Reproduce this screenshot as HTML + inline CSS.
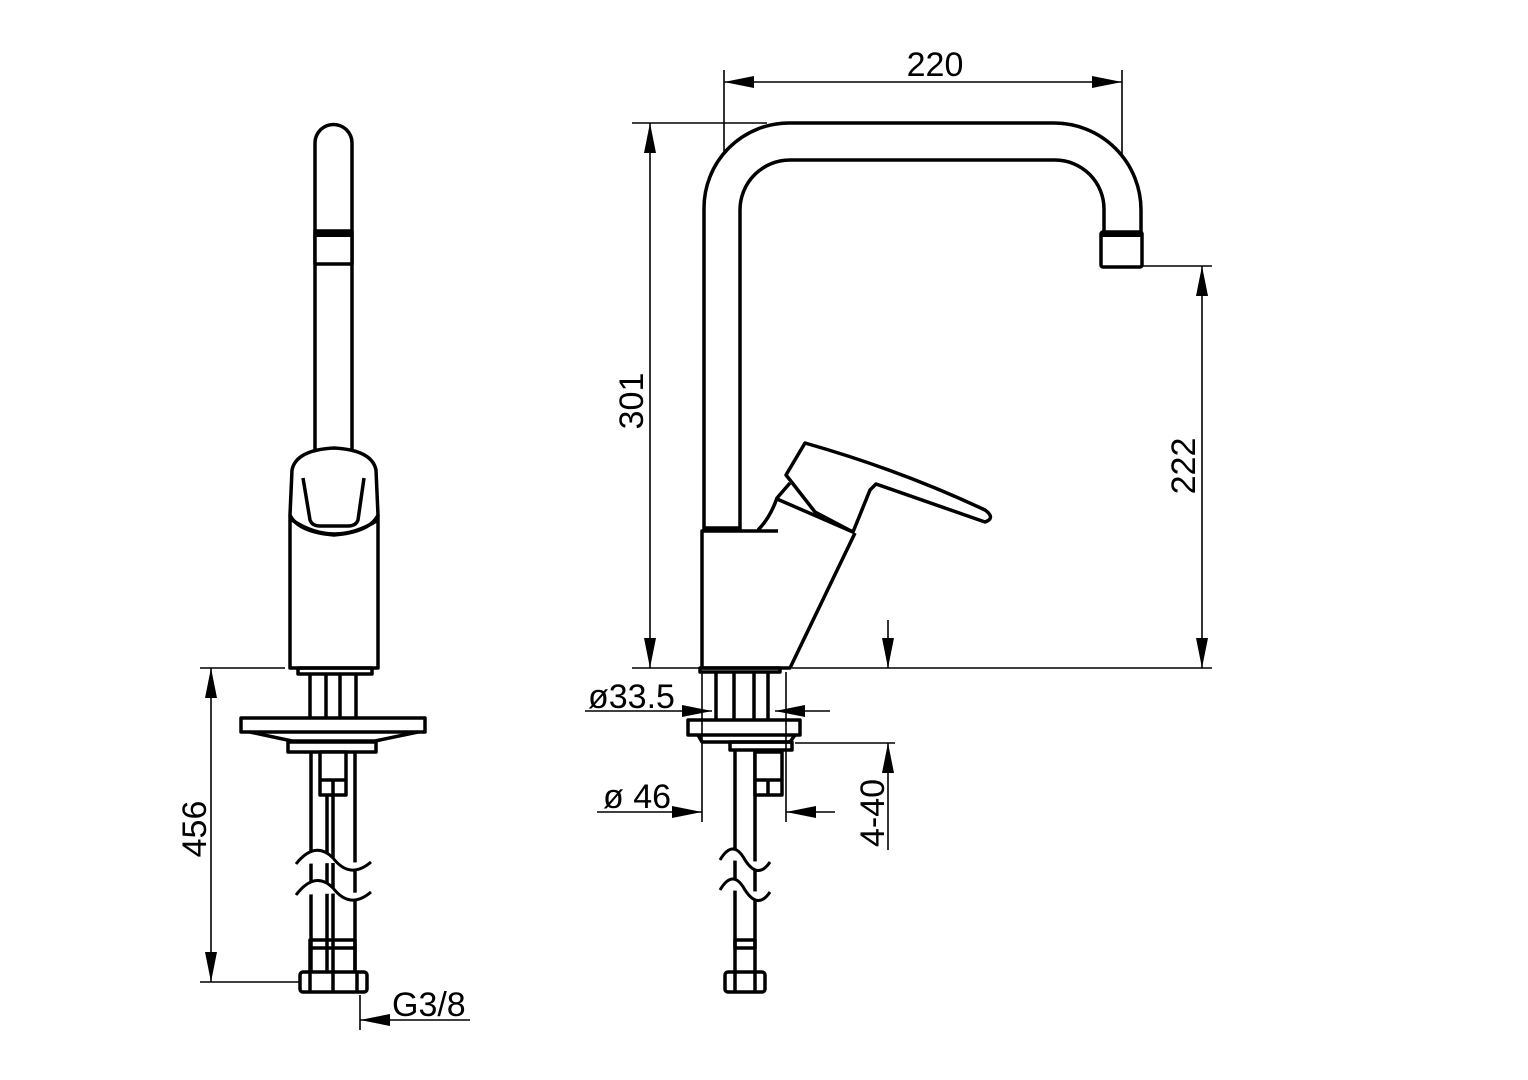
<!DOCTYPE html>
<html><head><meta charset="utf-8"><style>
html,body{margin:0;padding:0;background:#fff;}
svg{display:block;}
text{font-family:"Liberation Sans",sans-serif;font-size:34px;fill:#000;}
</style></head><body>
<svg width="1528" height="1080" viewBox="0 0 1528 1080" xmlns="http://www.w3.org/2000/svg">
<defs>
<marker id="a" viewBox="0 0 30 12" refX="30" refY="6" markerWidth="30" markerHeight="12" markerUnits="userSpaceOnUse" preserveAspectRatio="none" orient="auto-start-reverse"><path d="M0,0 L30,6 L0,12z" fill="#000"/></marker>
</defs>
<g fill="none" stroke="#000" stroke-width="3.5" stroke-linejoin="round">
<!-- LEFT VIEW -->
<path d="M315,450 V143 A18.5,18.5 0 0 1 352,143 V450"/>
<rect x="315" y="231" width="37" height="33" fill="#fff"/>
<line x1="315" y1="234" x2="352" y2="234" stroke-width="6"/>
<path d="M292,470 Q296,450 334,448 Q372,450 376,470 L378,515 Q370,532 334,535 Q298,532 290,515 Z" fill="#fff"/>
<path d="M303,478 L310,520 Q312,526 320,526 H348 Q356,526 358,520 L364,478"/>
<path d="M292,520 Q334,548 378,520"/>
<path d="M290,515 V668 H378 V515"/>
<rect x="298" y="668" width="74" height="6"/>
<path d="M310,674 V718 M326,674 V718 M340,674 V718 M356,674 V718"/>
<rect x="241" y="718" width="184" height="14" fill="#fff"/>
<path d="M250,732 L292,741 H375 L418,732"/>
<rect x="288" y="742" width="88" height="10"/>
<path d="M311,752 V972 M355,752 V972 M327,795 V972 M333,795 V972"/>
<rect x="320" y="752" width="26" height="43" fill="#fff"/>
<path d="M320,780 H346 M333,780 V795"/>
<rect x="310" y="940" width="45" height="8"/>
<path d="M310,948 V972 M355,948 V972"/>
<rect x="300" y="972" width="67" height="20" rx="3"/>
<path d="M310,972 V992 M333,972 V992 M357,972 V992"/>
<path d="M296,864 Q315,840 333,858 Q350,880 371,862" fill="#fff" stroke-width="3"/>
<path d="M296,895 Q315,870 333,888 Q350,910 371,892" fill="#fff" stroke-width="3"/>
<!-- RIGHT VIEW spout -->
<path d="M704,530 V208 A85,85 0 0 1 789,123 H1054 A87,87 0 0 1 1141,210 V232"/>
<path d="M740,530 V210 A50,50 0 0 1 790,160 H1055 A49,49 0 0 1 1104,209 V232"/>
<rect x="1101" y="232" width="41" height="35" rx="2"/>
<line x1="1101" y1="234" x2="1142" y2="234" stroke-width="6"/>
<!-- body -->
<path d="M778,531 H702 V668 H790 L855,533"/>
<path d="M704,528 H740"/>
<path d="M758,530 Q770,518 777,498 L790,483"/>
<path d="M777,499 L853,532"/>
<path d="M786,475 L805,443 Q900,470 985,510 Q996,518 985,522 L876,484 L870,490 L853,532 L815,512 L790,480 Z" fill="#fff"/>
<rect x="700" y="668" width="80" height="4"/>
<path d="M716,672 V720 M734,672 V720 M754,672 V720 M768,672 V720"/>
<rect x="688" y="720" width="112" height="15" fill="#fff"/>
<path d="M698,735 L702,742 H790 L795,735"/>
<rect x="730" y="742" width="62" height="8"/>
<path d="M735,750 V972 M755,750 V972"/>
<rect x="755" y="752" width="27" height="43" fill="#fff"/>
<path d="M755,780 H782 M768,780 V795"/>
<rect x="735" y="940" width="20" height="8"/>
<rect x="725" y="972" width="40" height="20" rx="3"/>
<path d="M735,972 V992 M755,972 V992"/>
<path d="M720,860 Q733,838 745,860 Q758,880 770,862" fill="#fff" stroke-width="3"/>
<path d="M720,890 Q733,868 745,890 Q758,910 770,892" fill="#fff" stroke-width="3"/>
</g>
<!-- dimensions -->
<g fill="none" stroke="#000" stroke-width="1.6">
<line x1="200" y1="668" x2="285" y2="668"/>
<line x1="200" y1="982" x2="300" y2="982"/>
<line x1="211" y1="668" x2="211" y2="982" marker-start="url(#a)" marker-end="url(#a)"/>
<line x1="360" y1="995" x2="360" y2="1030"/>
<line x1="470" y1="1020" x2="360" y2="1020" marker-end="url(#a)"/>
<line x1="724" y1="70" x2="724" y2="152"/>
<line x1="1122" y1="70" x2="1122" y2="156"/>
<line x1="724" y1="82" x2="1122" y2="82" marker-start="url(#a)" marker-end="url(#a)"/>
<line x1="632" y1="123" x2="767" y2="123"/>
<line x1="650" y1="123" x2="650" y2="668" marker-start="url(#a)" marker-end="url(#a)"/>
<line x1="632" y1="668" x2="700" y2="668"/>
<line x1="792" y1="668" x2="1212" y2="668"/>
<line x1="1142" y1="266" x2="1212" y2="266"/>
<line x1="1202" y1="266" x2="1202" y2="668" marker-start="url(#a)" marker-end="url(#a)"/>
<line x1="702" y1="672" x2="702" y2="822"/>
<line x1="786" y1="672" x2="786" y2="822"/>
<line x1="585" y1="711" x2="712" y2="711" marker-end="url(#a)"/>
<line x1="830" y1="711" x2="775" y2="711" marker-end="url(#a)"/>
<line x1="597" y1="812" x2="702" y2="812" marker-end="url(#a)"/>
<line x1="835" y1="812" x2="786" y2="812" marker-end="url(#a)"/>
<line x1="888" y1="620" x2="888" y2="668" marker-end="url(#a)"/>
<line x1="888" y1="850" x2="888" y2="743" marker-end="url(#a)"/>
<line x1="795" y1="743" x2="895" y2="743"/>
</g>
<text x="935" y="76" text-anchor="middle">220</text>
<text transform="translate(643,401) rotate(-90)" text-anchor="middle">301</text>
<text transform="translate(1195,466) rotate(-90)" text-anchor="middle">222</text>
<text transform="translate(206,829) rotate(-90)" text-anchor="middle">456</text>
<text transform="translate(884,813) rotate(-90)" text-anchor="middle">4-40</text>
<text x="588" y="708">ø33.5</text>
<text x="603" y="808">ø 46</text>
<text x="392" y="1016">G3/8</text>
</svg>
</body></html>
